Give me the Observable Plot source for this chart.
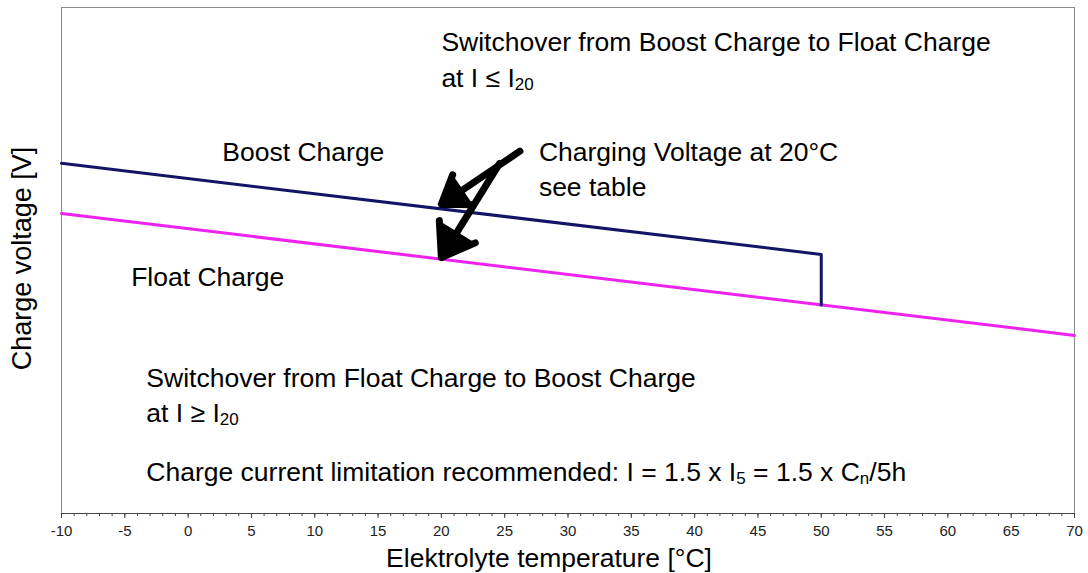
<!DOCTYPE html>
<html><head><meta charset="utf-8">
<script src="https://cdn.jsdelivr.net/npm/d3@7"></script>
<script src="https://cdn.jsdelivr.net/npm/@observablehq/plot@0.6"></script>
<style>body{margin:0;background:#fff}</style>
</head><body><div id="chart"></div>
<script>
// Series (x = electrolyte temperature °C, y = relative charge voltage, no scale shown)
const boostTemp = [-10, 50, 50];
const boostVolt = [69.2, 51.2, 41.2];
const floatTemp = [-10, 70];
const floatVolt = [59.3, 35.2];

// Axis ticks
const majorTicks = [-10, -5, 0, 5, 10, 15, 20, 25, 30, 35, 40, 45, 50, 55, 60, 65, 70];
const majorTickLabels = ["-10", "-5", "0", "5", "10", "15", "20", "25", "30", "35", "40", "45", "50", "55", "60", "65", "70"];
const minorTicks = d3.range(-10, 71, 1);

// Annotations (text with _{..} subscripts)
const noteText = [
  "Switchover from Boost Charge to Float Charge",
  "at I ≤ I_{20}",
  "Boost Charge",
  "Charging Voltage at 20°C",
  "see table",
  "Float Charge",
  "Switchover from Float Charge to Boost Charge",
  "at I ≥ I_{20}",
  "Charge current limitation recommended: I = 1.5 x I_{5} = 1.5 x C_{n}/5h"
];
const noteX = [20, 20, 2.7, 27.7, 27.7, -4.5, -3.3, -3.3, -3.3];
const noteY = [93.1, 86.0, 71.3, 71.3, 64.4, 46.6, 26.7, 19.8, 8.1];

// Arrows pointing at the two curves
const arrowX1 = [26.2, 24.6];
const arrowY1 = [71.6, 69.2];
const arrowX2 = [20.0, 20.0];
const arrowY2 = [61.1, 50.6];

const xLabel = "Elektrolyte temperature [°C]";
const yLabel = "Charge voltage [V]";

const bi = d3.range(boostTemp.length);
const fi = d3.range(floatTemp.length);
const ni = d3.range(noteText.length);
const ai = d3.range(arrowX1.length);
const ti = d3.range(majorTicks.length);

const chart = Plot.plot({
  width: 1088, height: 573,
  marginLeft: 61, marginRight: 14, marginTop: 7, marginBottom: 60,
  x: {domain: [-10, 70]},
  y: {domain: [0, 100], axis: null},
  style: {fontFamily: "'Liberation Sans', Arial, sans-serif", background: "white", color: "black"},
  marks: [
    Plot.frame({stroke: "#8c8c8c"}),
    Plot.ruleY([0], {stroke: "#444"}),
    Plot.axisX({ticks: minorTicks, tickSize: 3, tickFormat: () => "", stroke: "#444", label: null}),
    Plot.axisX({ticks: majorTicks, tickSize: 5, tickFormat: () => "", stroke: "#444", label: null}),
    Plot.text(ti, {x: i => majorTicks[i], text: i => majorTickLabels[i], frameAnchor: "bottom", lineAnchor: "middle", dy: 18, fontSize: 15, fill: "#222"}),
    Plot.line(fi, {x: i => floatTemp[i], y: i => floatVolt[i], stroke: "#ee22ee", strokeWidth: 3}),
    Plot.line(bi, {x: i => boostTemp[i], y: i => boostVolt[i], stroke: "#141466", strokeWidth: 3}),
    Plot.arrow(ai, {x1: i => arrowX1[i], y1: i => arrowY1[i], x2: i => arrowX2[i], y2: i => arrowY2[i],
      stroke: "black", fill: "black", strokeWidth: 7, headLength: 8, headAngle: 70}),
    Plot.text(ni, {x: i => noteX[i], y: i => noteY[i], text: i => noteText[i], textAnchor: "start", fontSize: 26.5, fill: "black"}),
    Plot.text([xLabel], {frameAnchor: "bottom", lineAnchor: "middle", dx: -19, dy: 45, fontSize: 26.5, fill: "black"}),
    Plot.text([yLabel], {frameAnchor: "left", lineAnchor: "middle", textAnchor: "middle", rotate: -90, dx: -39, dy: -2, fontSize: 27, fill: "black"})
  ]
});

// convert _{..} into subscript tspans
chart.querySelectorAll("text").forEach(t => {
  const s = t.textContent;
  if (!s.includes("_{")) return;
  t.textContent = "";
  const parts = s.split(/(_\{[^}]*\})/);
  let shifted = false;
  parts.forEach(p => {
    if (!p) return;
    const ts = document.createElementNS("http://www.w3.org/2000/svg", "tspan");
    if (p.startsWith("_{")) {
      ts.textContent = p.slice(2, -1);
      ts.setAttribute("font-size", "17");
      ts.setAttribute("dy", "3");
      shifted = true;
    } else {
      ts.textContent = p;
      if (shifted) { ts.setAttribute("dy", "-3"); shifted = false; }
    }
    t.appendChild(ts);
  });
});

document.getElementById("chart").appendChild(chart);
</script>
</body></html>
